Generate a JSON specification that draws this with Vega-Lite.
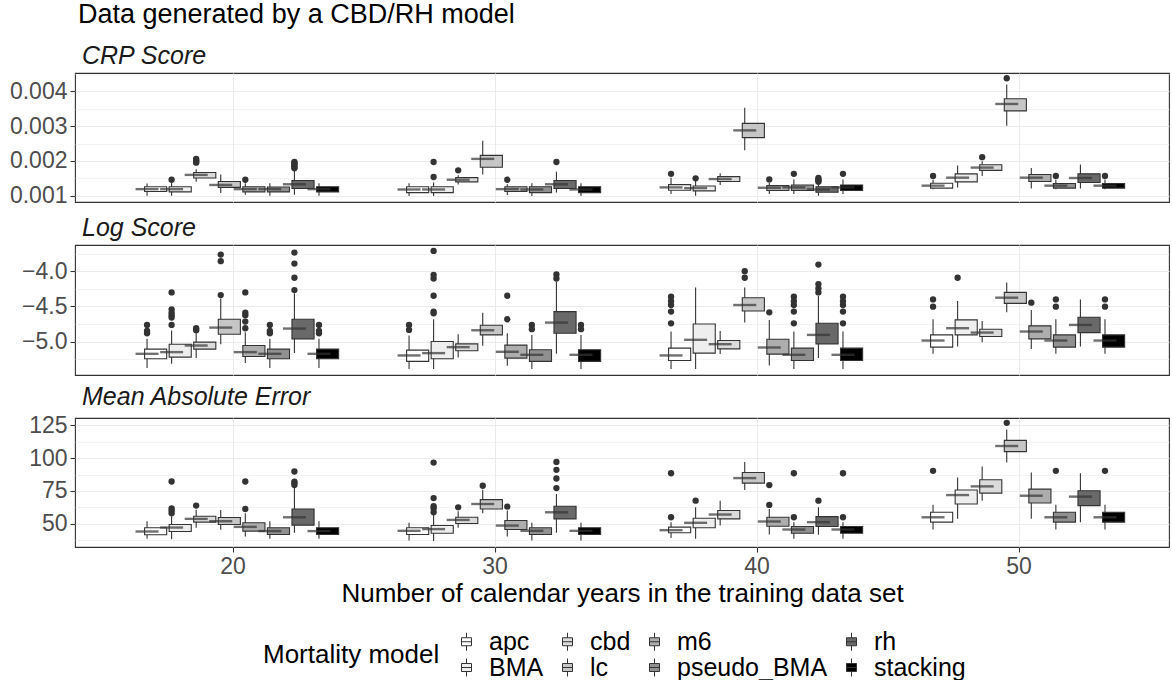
{
  "$schema": "https://vega.github.io/schema/vega-lite/v6.json",
  "padding": {"left": 5, "right": 4, "top": 1, "bottom": 2},
  "title": {"text": "Data generated by a CBD/RH model", "anchor": "start", "frame": "group", "dx": 3, "fontSize": 27, "fontWeight": "normal", "color": "#000000", "offset": 14},
  "spacing": 43,
  "bounds": "flush",
  "resolve": {"scale": {"y": "independent", "x": "independent", "xOffset": "independent", "fill": "shared"}, "axis": {"y": "independent", "x": "independent"}, "legend": {"fill": "shared"}},
  "datasets": {
    "boxes": [
      {"metric":"CRP","years":20,"model":"apc","lo":0.00100,"q1":0.00112,"med":0.00119,"q3":0.00126,"hi":0.00135},
      {"metric":"CRP","years":20,"model":"BMA","lo":0.00100,"q1":0.00111,"med":0.00119,"q3":0.00126,"hi":0.00138},
      {"metric":"CRP","years":20,"model":"cbd","lo":0.00140,"q1":0.00151,"med":0.00160,"q3":0.00167,"hi":0.00176},
      {"metric":"CRP","years":20,"model":"lc","lo":0.00108,"q1":0.00124,"med":0.00131,"q3":0.00141,"hi":0.00161},
      {"metric":"CRP","years":20,"model":"m6","lo":0.00103,"q1":0.00111,"med":0.00119,"q3":0.00126,"hi":0.00136},
      {"metric":"CRP","years":20,"model":"pseudo_BMA","lo":0.00100,"q1":0.00111,"med":0.00119,"q3":0.00125,"hi":0.00136},
      {"metric":"CRP","years":20,"model":"rh","lo":0.00103,"q1":0.00121,"med":0.00133,"q3":0.00144,"hi":0.00176},
      {"metric":"CRP","years":20,"model":"stacking","lo":0.00100,"q1":0.00111,"med":0.00119,"q3":0.00126,"hi":0.00136},
      {"metric":"CRP","years":30,"model":"apc","lo":0.00099,"q1":0.00109,"med":0.00118,"q3":0.00126,"hi":0.00136},
      {"metric":"CRP","years":30,"model":"BMA","lo":0.00099,"q1":0.00109,"med":0.00118,"q3":0.00126,"hi":0.00138},
      {"metric":"CRP","years":30,"model":"cbd","lo":0.00132,"q1":0.00140,"med":0.00146,"q3":0.00152,"hi":0.00159},
      {"metric":"CRP","years":30,"model":"lc","lo":0.00161,"q1":0.00182,"med":0.00206,"q3":0.00216,"hi":0.00258},
      {"metric":"CRP","years":30,"model":"m6","lo":0.00102,"q1":0.00112,"med":0.00119,"q3":0.00126,"hi":0.00133},
      {"metric":"CRP","years":30,"model":"pseudo_BMA","lo":0.00099,"q1":0.00109,"med":0.00118,"q3":0.00126,"hi":0.00136},
      {"metric":"CRP","years":30,"model":"rh","lo":0.00109,"q1":0.00121,"med":0.00133,"q3":0.00144,"hi":0.00169},
      {"metric":"CRP","years":30,"model":"stacking","lo":0.00099,"q1":0.00109,"med":0.00118,"q3":0.00126,"hi":0.00136},
      {"metric":"CRP","years":40,"model":"apc","lo":0.00105,"q1":0.00116,"med":0.00124,"q3":0.00132,"hi":0.00152},
      {"metric":"CRP","years":40,"model":"BMA","lo":0.00100,"q1":0.00114,"med":0.00122,"q3":0.00128,"hi":0.00143},
      {"metric":"CRP","years":40,"model":"cbd","lo":0.00131,"q1":0.00141,"med":0.00148,"q3":0.00155,"hi":0.00165},
      {"metric":"CRP","years":40,"model":"lc","lo":0.00231,"q1":0.00267,"med":0.00288,"q3":0.00308,"hi":0.00353},
      {"metric":"CRP","years":40,"model":"m6","lo":0.00105,"q1":0.00115,"med":0.00123,"q3":0.00129,"hi":0.00138},
      {"metric":"CRP","years":40,"model":"pseudo_BMA","lo":0.00105,"q1":0.00115,"med":0.00124,"q3":0.00131,"hi":0.00147},
      {"metric":"CRP","years":40,"model":"rh","lo":0.00100,"q1":0.00110,"med":0.00118,"q3":0.00126,"hi":0.00136},
      {"metric":"CRP","years":40,"model":"stacking","lo":0.00105,"q1":0.00115,"med":0.00124,"q3":0.00131,"hi":0.00147},
      {"metric":"CRP","years":50,"model":"apc","lo":0.00119,"q1":0.00122,"med":0.00129,"q3":0.00136,"hi":0.00147},
      {"metric":"CRP","years":50,"model":"BMA","lo":0.00124,"q1":0.00140,"med":0.00152,"q3":0.00163,"hi":0.00187},
      {"metric":"CRP","years":50,"model":"cbd","lo":0.00157,"q1":0.00173,"med":0.00181,"q3":0.00189,"hi":0.00199},
      {"metric":"CRP","years":50,"model":"lc","lo":0.00301,"q1":0.00344,"med":0.00364,"q3":0.00379,"hi":0.00420},
      {"metric":"CRP","years":50,"model":"m6","lo":0.00121,"q1":0.00141,"med":0.00152,"q3":0.00161,"hi":0.00180},
      {"metric":"CRP","years":50,"model":"pseudo_BMA","lo":0.00119,"q1":0.00122,"med":0.00129,"q3":0.00135,"hi":0.00147},
      {"metric":"CRP","years":50,"model":"rh","lo":0.00121,"q1":0.00138,"med":0.00151,"q3":0.00163,"hi":0.00190},
      {"metric":"CRP","years":50,"model":"stacking","lo":0.00119,"q1":0.00122,"med":0.00129,"q3":0.00135,"hi":0.00147},

      {"metric":"Log","years":20,"model":"apc","lo":-5.377,"q1":-5.245,"med":-5.175,"q3":-5.108,"hi":-4.962},
      {"metric":"Log","years":20,"model":"BMA","lo":-5.316,"q1":-5.222,"med":-5.151,"q3":-5.038,"hi":-4.844},
      {"metric":"Log","years":20,"model":"cbd","lo":-5.236,"q1":-5.108,"med":-5.057,"q3":-5.009,"hi":-4.882},
      {"metric":"Log","years":20,"model":"lc","lo":-5.038,"q1":-4.896,"med":-4.802,"q3":-4.684,"hi":-4.387},
      {"metric":"Log","years":20,"model":"m6","lo":-5.307,"q1":-5.212,"med":-5.151,"q3":-5.057,"hi":-4.868},
      {"metric":"Log","years":20,"model":"pseudo_BMA","lo":-5.377,"q1":-5.245,"med":-5.175,"q3":-5.108,"hi":-4.962},
      {"metric":"Log","years":20,"model":"rh","lo":-5.165,"q1":-4.962,"med":-4.816,"q3":-4.684,"hi":-4.316},
      {"metric":"Log","years":20,"model":"stacking","lo":-5.377,"q1":-5.245,"med":-5.175,"q3":-5.108,"hi":-4.962},
      {"metric":"Log","years":30,"model":"apc","lo":-5.392,"q1":-5.283,"med":-5.198,"q3":-5.123,"hi":-4.915},
      {"metric":"Log","years":30,"model":"BMA","lo":-5.392,"q1":-5.245,"med":-5.165,"q3":-5.000,"hi":-4.684},
      {"metric":"Log","years":30,"model":"cbd","lo":-5.226,"q1":-5.132,"med":-5.080,"q3":-5.033,"hi":-4.896},
      {"metric":"Log","years":30,"model":"lc","lo":-5.061,"q1":-4.906,"med":-4.840,"q3":-4.769,"hi":-4.590},
      {"metric":"Log","years":30,"model":"m6","lo":-5.344,"q1":-5.236,"med":-5.146,"q3":-5.052,"hi":-4.882},
      {"metric":"Log","years":30,"model":"pseudo_BMA","lo":-5.392,"q1":-5.283,"med":-5.189,"q3":-5.118,"hi":-4.906},
      {"metric":"Log","years":30,"model":"rh","lo":-5.175,"q1":-4.882,"med":-4.731,"q3":-4.575,"hi":-4.151},
      {"metric":"Log","years":30,"model":"stacking","lo":-5.392,"q1":-5.283,"med":-5.189,"q3":-5.118,"hi":-4.906},
      {"metric":"Log","years":40,"model":"apc","lo":-5.392,"q1":-5.269,"med":-5.198,"q3":-5.094,"hi":-4.858},
      {"metric":"Log","years":40,"model":"BMA","lo":-5.392,"q1":-5.165,"med":-4.976,"q3":-4.750,"hi":-4.231},
      {"metric":"Log","years":40,"model":"cbd","lo":-5.179,"q1":-5.104,"med":-5.038,"q3":-4.986,"hi":-4.849},
      {"metric":"Log","years":40,"model":"lc","lo":-4.731,"q1":-4.566,"med":-4.481,"q3":-4.377,"hi":-4.231},
      {"metric":"Log","years":40,"model":"m6","lo":-5.340,"q1":-5.179,"med":-5.085,"q3":-4.967,"hi":-4.693},
      {"metric":"Log","years":40,"model":"pseudo_BMA","lo":-5.392,"q1":-5.269,"med":-5.189,"q3":-5.094,"hi":-4.858},
      {"metric":"Log","years":40,"model":"rh","lo":-5.236,"q1":-5.033,"med":-4.906,"q3":-4.741,"hi":-4.354},
      {"metric":"Log","years":40,"model":"stacking","lo":-5.392,"q1":-5.269,"med":-5.189,"q3":-5.094,"hi":-4.858},
      {"metric":"Log","years":50,"model":"apc","lo":-5.175,"q1":-5.080,"med":-4.986,"q3":-4.906,"hi":-4.684},
      {"metric":"Log","years":50,"model":"BMA","lo":-5.071,"q1":-4.906,"med":-4.811,"q3":-4.693,"hi":-4.425},
      {"metric":"Log","years":50,"model":"cbd","lo":-5.009,"q1":-4.929,"med":-4.873,"q3":-4.825,"hi":-4.708},
      {"metric":"Log","years":50,"model":"lc","lo":-4.585,"q1":-4.458,"med":-4.377,"q3":-4.302,"hi":-4.160},
      {"metric":"Log","years":50,"model":"m6","lo":-5.108,"q1":-4.962,"med":-4.858,"q3":-4.778,"hi":-4.552},
      {"metric":"Log","years":50,"model":"pseudo_BMA","lo":-5.175,"q1":-5.080,"med":-4.986,"q3":-4.906,"hi":-4.684},
      {"metric":"Log","years":50,"model":"rh","lo":-5.071,"q1":-4.873,"med":-4.764,"q3":-4.656,"hi":-4.401},
      {"metric":"Log","years":50,"model":"stacking","lo":-5.175,"q1":-5.080,"med":-4.986,"q3":-4.906,"hi":-4.684},

      {"metric":"MAE","years":20,"model":"apc","lo":38.7,"q1":41.7,"med":44.2,"q3":47.0,"hi":52.0},
      {"metric":"MAE","years":20,"model":"BMA","lo":38.2,"q1":44.2,"med":47.2,"q3":49.5,"hi":55.8},
      {"metric":"MAE","years":20,"model":"cbd","lo":47.0,"q1":51.3,"med":53.8,"q3":55.8,"hi":60.8},
      {"metric":"MAE","years":20,"model":"lc","lo":45.5,"q1":49.5,"med":52.0,"q3":54.8,"hi":60.6},
      {"metric":"MAE","years":20,"model":"m6","lo":40.4,"q1":44.5,"med":47.7,"q3":50.8,"hi":58.1},
      {"metric":"MAE","years":20,"model":"pseudo_BMA","lo":38.7,"q1":41.9,"med":44.5,"q3":47.0,"hi":52.0},
      {"metric":"MAE","years":20,"model":"rh","lo":43.2,"q1":49.0,"med":55.0,"q3":61.3,"hi":77.7},
      {"metric":"MAE","years":20,"model":"stacking","lo":38.7,"q1":41.9,"med":44.5,"q3":47.0,"hi":52.0},
      {"metric":"MAE","years":30,"model":"apc","lo":37.4,"q1":41.9,"med":44.7,"q3":47.0,"hi":50.8},
      {"metric":"MAE","years":30,"model":"BMA","lo":36.9,"q1":42.9,"med":46.0,"q3":48.7,"hi":56.8},
      {"metric":"MAE","years":30,"model":"cbd","lo":47.0,"q1":50.3,"med":53.0,"q3":55.0,"hi":59.6},
      {"metric":"MAE","years":30,"model":"lc","lo":58.1,"q1":61.3,"med":65.1,"q3":68.4,"hi":75.9},
      {"metric":"MAE","years":30,"model":"m6","lo":40.4,"q1":45.7,"med":48.7,"q3":52.5,"hi":60.1},
      {"metric":"MAE","years":30,"model":"pseudo_BMA","lo":37.4,"q1":41.9,"med":44.7,"q3":47.0,"hi":50.8},
      {"metric":"MAE","years":30,"model":"rh","lo":43.2,"q1":53.8,"med":58.8,"q3":63.4,"hi":72.7},
      {"metric":"MAE","years":30,"model":"stacking","lo":37.4,"q1":41.9,"med":44.7,"q3":47.0,"hi":50.8},
      {"metric":"MAE","years":40,"model":"apc","lo":39.2,"q1":43.2,"med":45.2,"q3":47.5,"hi":51.3},
      {"metric":"MAE","years":40,"model":"BMA","lo":38.7,"q1":47.0,"med":50.8,"q3":54.3,"hi":62.6},
      {"metric":"MAE","years":40,"model":"cbd","lo":48.7,"q1":53.8,"med":57.1,"q3":60.1,"hi":67.6},
      {"metric":"MAE","years":40,"model":"lc","lo":75.7,"q1":81.0,"med":84.8,"q3":89.0,"hi":97.1},
      {"metric":"MAE","years":40,"model":"m6","lo":41.9,"q1":48.2,"med":51.8,"q3":55.0,"hi":61.3},
      {"metric":"MAE","years":40,"model":"pseudo_BMA","lo":38.7,"q1":42.9,"med":45.7,"q3":48.0,"hi":51.3},
      {"metric":"MAE","years":40,"model":"rh","lo":41.7,"q1":48.0,"med":51.3,"q3":55.5,"hi":62.6},
      {"metric":"MAE","years":40,"model":"stacking","lo":38.7,"q1":42.9,"med":45.7,"q3":48.0,"hi":51.3},
      {"metric":"MAE","years":50,"model":"apc","lo":45.7,"q1":51.3,"med":55.0,"q3":58.8,"hi":64.6},
      {"metric":"MAE","years":50,"model":"BMA","lo":53.8,"q1":65.1,"med":71.9,"q3":75.7,"hi":85.3},
      {"metric":"MAE","years":50,"model":"cbd","lo":67.6,"q1":73.4,"med":78.5,"q3":83.5,"hi":93.6},
      {"metric":"MAE","years":50,"model":"lc","lo":96.6,"q1":104.9,"med":109.2,"q3":113.5,"hi":121.8},
      {"metric":"MAE","years":50,"model":"m6","lo":53.8,"q1":65.9,"med":71.4,"q3":76.4,"hi":89.0},
      {"metric":"MAE","years":50,"model":"pseudo_BMA","lo":45.7,"q1":51.3,"med":55.0,"q3":58.8,"hi":64.6},
      {"metric":"MAE","years":50,"model":"rh","lo":51.3,"q1":63.9,"med":70.7,"q3":75.2,"hi":88.5},
      {"metric":"MAE","years":50,"model":"stacking","lo":45.7,"q1":51.3,"med":55.0,"q3":58.8,"hi":64.6}
    ],
    "outliers": [
      {"metric":"CRP","years":20,"model":"BMA","value":0.00146},
      {"metric":"CRP","years":20,"model":"cbd","value":0.00195},
      {"metric":"CRP","years":20,"model":"cbd","value":0.00198},
      {"metric":"CRP","years":20,"model":"cbd","value":0.00202},
      {"metric":"CRP","years":20,"model":"cbd","value":0.00206},
      {"metric":"CRP","years":20,"model":"m6","value":0.00146},
      {"metric":"CRP","years":20,"model":"rh","value":0.00179},
      {"metric":"CRP","years":20,"model":"rh","value":0.00183},
      {"metric":"CRP","years":20,"model":"rh","value":0.00187},
      {"metric":"CRP","years":20,"model":"rh","value":0.00191},
      {"metric":"CRP","years":20,"model":"rh","value":0.00195},
      {"metric":"CRP","years":20,"model":"rh","value":0.00197},
      {"metric":"CRP","years":30,"model":"BMA","value":0.00154},
      {"metric":"CRP","years":30,"model":"BMA","value":0.00197},
      {"metric":"CRP","years":30,"model":"cbd","value":0.00173},
      {"metric":"CRP","years":30,"model":"m6","value":0.00146},
      {"metric":"CRP","years":30,"model":"rh","value":0.00197},
      {"metric":"CRP","years":40,"model":"apc","value":0.00163},
      {"metric":"CRP","years":40,"model":"BMA","value":0.00150},
      {"metric":"CRP","years":40,"model":"m6","value":0.00147},
      {"metric":"CRP","years":40,"model":"pseudo_BMA","value":0.00163},
      {"metric":"CRP","years":40,"model":"rh","value":0.00140},
      {"metric":"CRP","years":40,"model":"rh","value":0.00144},
      {"metric":"CRP","years":40,"model":"rh","value":0.00147},
      {"metric":"CRP","years":40,"model":"rh","value":0.00151},
      {"metric":"CRP","years":40,"model":"stacking","value":0.00163},
      {"metric":"CRP","years":50,"model":"apc","value":0.00157},
      {"metric":"CRP","years":50,"model":"cbd","value":0.00211},
      {"metric":"CRP","years":50,"model":"lc","value":0.00438},
      {"metric":"CRP","years":50,"model":"pseudo_BMA","value":0.00157},
      {"metric":"CRP","years":50,"model":"stacking","value":0.00157},

      {"metric":"Log","years":20,"model":"apc","value":-4.764},
      {"metric":"Log","years":20,"model":"apc","value":-4.849},
      {"metric":"Log","years":20,"model":"apc","value":-4.882},
      {"metric":"Log","years":20,"model":"BMA","value":-4.302},
      {"metric":"Log","years":20,"model":"BMA","value":-4.542},
      {"metric":"Log","years":20,"model":"BMA","value":-4.590},
      {"metric":"Log","years":20,"model":"BMA","value":-4.627},
      {"metric":"Log","years":20,"model":"BMA","value":-4.660},
      {"metric":"Log","years":20,"model":"BMA","value":-4.764},
      {"metric":"Log","years":20,"model":"cbd","value":-4.811},
      {"metric":"Log","years":20,"model":"cbd","value":-4.840},
      {"metric":"Log","years":20,"model":"lc","value":-4.340},
      {"metric":"Log","years":20,"model":"lc","value":-3.858},
      {"metric":"Log","years":20,"model":"lc","value":-3.764},
      {"metric":"Log","years":20,"model":"m6","value":-4.302},
      {"metric":"Log","years":20,"model":"m6","value":-4.590},
      {"metric":"Log","years":20,"model":"m6","value":-4.627},
      {"metric":"Log","years":20,"model":"m6","value":-4.717},
      {"metric":"Log","years":20,"model":"m6","value":-4.811},
      {"metric":"Log","years":20,"model":"pseudo_BMA","value":-4.764},
      {"metric":"Log","years":20,"model":"pseudo_BMA","value":-4.849},
      {"metric":"Log","years":20,"model":"pseudo_BMA","value":-4.882},
      {"metric":"Log","years":20,"model":"rh","value":-4.269},
      {"metric":"Log","years":20,"model":"rh","value":-4.094},
      {"metric":"Log","years":20,"model":"rh","value":-3.892},
      {"metric":"Log","years":20,"model":"rh","value":-3.736},
      {"metric":"Log","years":20,"model":"stacking","value":-4.764},
      {"metric":"Log","years":20,"model":"stacking","value":-4.849},
      {"metric":"Log","years":20,"model":"stacking","value":-4.882},
      {"metric":"Log","years":30,"model":"apc","value":-4.764},
      {"metric":"Log","years":30,"model":"apc","value":-4.835},
      {"metric":"Log","years":30,"model":"BMA","value":-4.575},
      {"metric":"Log","years":30,"model":"BMA","value":-4.599},
      {"metric":"Log","years":30,"model":"BMA","value":-4.349},
      {"metric":"Log","years":30,"model":"BMA","value":-4.104},
      {"metric":"Log","years":30,"model":"BMA","value":-4.052},
      {"metric":"Log","years":30,"model":"BMA","value":-3.712},
      {"metric":"Log","years":30,"model":"m6","value":-4.684},
      {"metric":"Log","years":30,"model":"m6","value":-4.349},
      {"metric":"Log","years":30,"model":"pseudo_BMA","value":-4.764},
      {"metric":"Log","years":30,"model":"pseudo_BMA","value":-4.825},
      {"metric":"Log","years":30,"model":"rh","value":-4.104},
      {"metric":"Log","years":30,"model":"rh","value":-4.047},
      {"metric":"Log","years":30,"model":"stacking","value":-4.764},
      {"metric":"Log","years":30,"model":"stacking","value":-4.825},
      {"metric":"Log","years":40,"model":"apc","value":-4.741},
      {"metric":"Log","years":40,"model":"apc","value":-4.575},
      {"metric":"Log","years":40,"model":"apc","value":-4.481},
      {"metric":"Log","years":40,"model":"apc","value":-4.425},
      {"metric":"Log","years":40,"model":"apc","value":-4.363},
      {"metric":"Log","years":40,"model":"lc","value":-4.094},
      {"metric":"Log","years":40,"model":"lc","value":-4.000},
      {"metric":"Log","years":40,"model":"m6","value":-4.585},
      {"metric":"Log","years":40,"model":"pseudo_BMA","value":-4.741},
      {"metric":"Log","years":40,"model":"pseudo_BMA","value":-4.575},
      {"metric":"Log","years":40,"model":"pseudo_BMA","value":-4.481},
      {"metric":"Log","years":40,"model":"pseudo_BMA","value":-4.425},
      {"metric":"Log","years":40,"model":"pseudo_BMA","value":-4.363},
      {"metric":"Log","years":40,"model":"rh","value":-4.302},
      {"metric":"Log","years":40,"model":"rh","value":-4.245},
      {"metric":"Log","years":40,"model":"rh","value":-4.184},
      {"metric":"Log","years":40,"model":"rh","value":-3.906},
      {"metric":"Log","years":40,"model":"stacking","value":-4.741},
      {"metric":"Log","years":40,"model":"stacking","value":-4.575},
      {"metric":"Log","years":40,"model":"stacking","value":-4.481},
      {"metric":"Log","years":40,"model":"stacking","value":-4.425},
      {"metric":"Log","years":40,"model":"stacking","value":-4.363},
      {"metric":"Log","years":50,"model":"apc","value":-4.505},
      {"metric":"Log","years":50,"model":"apc","value":-4.401},
      {"metric":"Log","years":50,"model":"BMA","value":-4.094},
      {"metric":"Log","years":50,"model":"m6","value":-4.448},
      {"metric":"Log","years":50,"model":"pseudo_BMA","value":-4.505},
      {"metric":"Log","years":50,"model":"pseudo_BMA","value":-4.401},
      {"metric":"Log","years":50,"model":"stacking","value":-4.505},
      {"metric":"Log","years":50,"model":"stacking","value":-4.401},

      {"metric":"MAE","years":20,"model":"BMA","value":58.1},
      {"metric":"MAE","years":20,"model":"BMA","value":60.1},
      {"metric":"MAE","years":20,"model":"BMA","value":61.8},
      {"metric":"MAE","years":20,"model":"BMA","value":82.2},
      {"metric":"MAE","years":20,"model":"cbd","value":63.9},
      {"metric":"MAE","years":20,"model":"m6","value":61.3},
      {"metric":"MAE","years":20,"model":"m6","value":82.2},
      {"metric":"MAE","years":20,"model":"rh","value":79.5},
      {"metric":"MAE","years":20,"model":"rh","value":81.0},
      {"metric":"MAE","years":20,"model":"rh","value":82.0},
      {"metric":"MAE","years":20,"model":"rh","value":89.8},
      {"metric":"MAE","years":30,"model":"BMA","value":58.8},
      {"metric":"MAE","years":30,"model":"BMA","value":61.8},
      {"metric":"MAE","years":30,"model":"BMA","value":63.4},
      {"metric":"MAE","years":30,"model":"BMA","value":69.6},
      {"metric":"MAE","years":30,"model":"BMA","value":96.6},
      {"metric":"MAE","years":30,"model":"cbd","value":62.6},
      {"metric":"MAE","years":30,"model":"lc","value":79.0},
      {"metric":"MAE","years":30,"model":"m6","value":63.1},
      {"metric":"MAE","years":30,"model":"rh","value":77.2},
      {"metric":"MAE","years":30,"model":"rh","value":84.5},
      {"metric":"MAE","years":30,"model":"rh","value":91.1},
      {"metric":"MAE","years":30,"model":"rh","value":97.1},
      {"metric":"MAE","years":40,"model":"apc","value":55.0},
      {"metric":"MAE","years":40,"model":"apc","value":88.5},
      {"metric":"MAE","years":40,"model":"BMA","value":67.6},
      {"metric":"MAE","years":40,"model":"m6","value":64.4},
      {"metric":"MAE","years":40,"model":"m6","value":79.5},
      {"metric":"MAE","years":40,"model":"pseudo_BMA","value":55.0},
      {"metric":"MAE","years":40,"model":"pseudo_BMA","value":88.5},
      {"metric":"MAE","years":40,"model":"rh","value":67.6},
      {"metric":"MAE","years":40,"model":"stacking","value":55.0},
      {"metric":"MAE","years":40,"model":"stacking","value":88.5},
      {"metric":"MAE","years":50,"model":"apc","value":90.3},
      {"metric":"MAE","years":50,"model":"lc","value":126.8},
      {"metric":"MAE","years":50,"model":"pseudo_BMA","value":90.3},
      {"metric":"MAE","years":50,"model":"stacking","value":90.3}
    ]
  },
  "vconcat": [
    {
      "width": 1094, "height": 129,
      "title": {"text": "CRP Score", "anchor": "start", "frame": "group", "fontSize": 25, "fontStyle": "italic", "fontWeight": "normal", "color": "#1A1A1A", "dx": 7, "offset": 4},
      "resolve": {"axis": {"y": "independent"}},
      "layer": [
        {
          "data": {"name": "boxes"}, "transform": [{"filter": "datum.metric == 'CRP'"}],
          "mark": {"type": "rule", "color": "#333333", "strokeWidth": 1.1},
          "encoding": {
            "x": {"field": "years", "type": "ordinal", "title": null, "scale": {"paddingInner": 0.25, "paddingOuter": 0.2128, "align": 0.536}, "axis": {"grid": true, "labels": false, "ticks": false, "domain": false, "bandPosition": 0.5}},
            "xOffset": {"field": "model", "type": "nominal", "scale": {"domain": ["apc","BMA","cbd","lc","m6","pseudo_BMA","rh","stacking"]}},
            "y": {"field": "lo", "type": "quantitative", "title": null, "scale": {"domain": [0.00082, 0.00453], "nice": false, "zero": false},
                  "axis": {"orient": "left", "values": [0.0015, 0.0025, 0.0035, 0.0045], "labels": false, "ticks": false, "domain": false, "grid": true, "gridWidth": 0.6, "minExtent": 0, "maxExtent": 0}},
            "y2": {"field": "hi"}
          }
        },
        {
          "data": {"name": "boxes"}, "transform": [{"filter": "datum.metric == 'CRP'"}],
          "mark": {"type": "bar", "stroke": "#333333", "strokeWidth": 1.1, "width": {"band": 0.9}},
          "encoding": {
            "x": {"field": "years", "type": "ordinal", "title": null},
            "xOffset": {"field": "model", "type": "nominal"},
            "y": {"field": "q1", "type": "quantitative", "title": null,
                  "axis": {"orient": "left", "values": [0.001, 0.002, 0.003, 0.004], "format": ".3f", "grid": true, "gridWidth": 1.1, "labelOverlap": false, "labelFlush": false, "minExtent": 69, "maxExtent": 69}},
            "y2": {"field": "q3"},
            "fill": {"field": "model", "type": "nominal",
                     "scale": {"domain": ["apc","cbd","m6","rh","BMA","lc","pseudo_BMA","stacking"], "range": ["#FFFFFF","#DBDBDB","#ADADAD","#696969","#EEEEEE","#C6C6C6","#909090","#000000"]},
                     "legend": {"title": "Mortality model", "orient": "none", "legendX": 188, "legendY": 556, "direction": "horizontal", "columns": 4, "titleOrient": "left", "titleAnchor": "middle", "titleBaseline": "middle", "titleFontSize": 26, "titleFontWeight": "normal", "titleColor": "#000000", "titlePadding": 14, "labelFontSize": 25, "labelColor": "#000000", "labelOffset": 10, "columnPadding": 11, "rowPadding": -7, "symbolSize": 400, "symbolStrokeColor": "#333333", "symbolStrokeWidth": 1, "symbolType": "M-0.5,-0.4H0.5V0.4H-0.5Z M-0.5,0H0.5 M0,-0.4V-0.9 M0,0.4V0.9"}}
          }
        },
        {
          "data": {"name": "boxes"}, "transform": [{"filter": "datum.metric == 'CRP'"}],
          "mark": {"type": "tick", "color": "#333333", "thickness": 2.4, "size": 23, "orient": "horizontal"},
          "encoding": {
            "x": {"field": "years", "type": "ordinal", "title": null},
            "xOffset": {"field": "model", "type": "nominal"},
            "y": {"field": "med", "type": "quantitative", "title": null, "axis": null}
          }
        },
        {
          "data": {"name": "outliers"}, "transform": [{"filter": "datum.metric == 'CRP'"}],
          "mark": {"type": "point", "filled": true, "color": "#333333", "size": 40, "opacity": 1},
          "encoding": {
            "x": {"field": "years", "type": "ordinal", "title": null},
            "xOffset": {"field": "model", "type": "nominal"},
            "y": {"field": "value", "type": "quantitative", "title": null, "axis": null}
          }
        }
      ]
    },
    {
      "width": 1094, "height": 130,
      "title": {"text": "Log Score", "anchor": "start", "frame": "group", "fontSize": 25, "fontStyle": "italic", "fontWeight": "normal", "color": "#1A1A1A", "dx": 7, "offset": 4},
      "resolve": {"axis": {"y": "independent"}},
      "layer": [
        {
          "data": {"name": "boxes"}, "transform": [{"filter": "datum.metric == 'Log'"}],
          "mark": {"type": "rule", "color": "#333333", "strokeWidth": 1.1},
          "encoding": {
            "x": {"field": "years", "type": "ordinal", "title": null, "scale": {"paddingInner": 0.25, "paddingOuter": 0.2128, "align": 0.536}, "axis": {"grid": true, "labels": false, "ticks": false, "domain": false, "bandPosition": 0.5}},
            "xOffset": {"field": "model", "type": "nominal", "scale": {"domain": ["apc","BMA","cbd","lc","m6","pseudo_BMA","rh","stacking"]}},
            "y": {"field": "lo", "type": "quantitative", "title": null, "scale": {"domain": [-5.476, -3.628], "nice": false, "zero": false},
                  "axis": {"orient": "left", "values": [-5.25, -4.75, -4.25, -3.75], "labels": false, "ticks": false, "domain": false, "grid": true, "gridWidth": 0.6, "minExtent": 0, "maxExtent": 0}},
            "y2": {"field": "hi"}
          }
        },
        {
          "data": {"name": "boxes"}, "transform": [{"filter": "datum.metric == 'Log'"}],
          "mark": {"type": "bar", "stroke": "#333333", "strokeWidth": 1.1, "width": {"band": 0.9}},
          "encoding": {
            "x": {"field": "years", "type": "ordinal", "title": null},
            "xOffset": {"field": "model", "type": "nominal"},
            "y": {"field": "q1", "type": "quantitative", "title": null,
                  "axis": {"orient": "left", "values": [-5, -4.5, -4], "format": ".1f", "grid": true, "gridWidth": 1.1, "labelOverlap": false, "labelFlush": false, "minExtent": 69, "maxExtent": 69}},
            "y2": {"field": "q3"},
            "fill": {"field": "model", "type": "nominal",
                     "scale": {"domain": ["apc","cbd","m6","rh","BMA","lc","pseudo_BMA","stacking"], "range": ["#FFFFFF","#DBDBDB","#ADADAD","#696969","#EEEEEE","#C6C6C6","#909090","#000000"]},
                     "legend": {"title": "Mortality model", "orient": "none", "legendX": 188, "legendY": 556, "direction": "horizontal", "columns": 4, "titleOrient": "left", "titleAnchor": "middle", "titleBaseline": "middle", "titleFontSize": 26, "titleFontWeight": "normal", "titleColor": "#000000", "titlePadding": 14, "labelFontSize": 25, "labelColor": "#000000", "labelOffset": 10, "columnPadding": 11, "rowPadding": -7, "symbolSize": 400, "symbolStrokeColor": "#333333", "symbolStrokeWidth": 1, "symbolType": "M-0.5,-0.4H0.5V0.4H-0.5Z M-0.5,0H0.5 M0,-0.4V-0.9 M0,0.4V0.9"}}
          }
        },
        {
          "data": {"name": "boxes"}, "transform": [{"filter": "datum.metric == 'Log'"}],
          "mark": {"type": "tick", "color": "#333333", "thickness": 2.4, "size": 23, "orient": "horizontal"},
          "encoding": {
            "x": {"field": "years", "type": "ordinal", "title": null},
            "xOffset": {"field": "model", "type": "nominal"},
            "y": {"field": "med", "type": "quantitative", "title": null, "axis": null}
          }
        },
        {
          "data": {"name": "outliers"}, "transform": [{"filter": "datum.metric == 'Log'"}],
          "mark": {"type": "point", "filled": true, "color": "#333333", "size": 40, "opacity": 1},
          "encoding": {
            "x": {"field": "years", "type": "ordinal", "title": null},
            "xOffset": {"field": "model", "type": "nominal"},
            "y": {"field": "value", "type": "quantitative", "title": null, "axis": null}
          }
        }
      ]
    },
    {
      "width": 1094, "height": 129,
      "title": {"text": "Mean Absolute Error", "anchor": "start", "frame": "group", "fontSize": 25, "fontStyle": "italic", "fontWeight": "normal", "color": "#1A1A1A", "dx": 7, "offset": 4},
      "resolve": {"axis": {"y": "independent"}},
      "layer": [
        {
          "data": {"name": "boxes"}, "transform": [{"filter": "datum.metric == 'MAE'"}],
          "mark": {"type": "rule", "color": "#333333", "strokeWidth": 1.1},
          "encoding": {
            "x": {"field": "years", "type": "ordinal", "title": "Number of calendar years in the training data set", "scale": {"paddingInner": 0.25, "paddingOuter": 0.2128, "align": 0.536},
                  "axis": {"grid": true, "domain": false, "bandPosition": 0.5, "labelAngle": 0, "labelPadding": 3, "titleFontSize": 26, "titleFontWeight": "normal", "titleColor": "#000000", "titlePadding": 2}},
            "xOffset": {"field": "model", "type": "nominal", "scale": {"domain": ["apc","BMA","cbd","lc","m6","pseudo_BMA","rh","stacking"]}},
            "y": {"field": "lo", "type": "quantitative", "title": null, "scale": {"domain": [32.4, 130.5], "nice": false, "zero": false},
                  "axis": {"orient": "left", "values": [37.5, 62.5, 87.5, 112.5], "labels": false, "ticks": false, "domain": false, "grid": true, "gridWidth": 0.6, "minExtent": 0, "maxExtent": 0}},
            "y2": {"field": "hi"}
          }
        },
        {
          "data": {"name": "boxes"}, "transform": [{"filter": "datum.metric == 'MAE'"}],
          "mark": {"type": "bar", "stroke": "#333333", "strokeWidth": 1.1, "width": {"band": 0.9}},
          "encoding": {
            "x": {"field": "years", "type": "ordinal", "title": "Number of calendar years in the training data set"},
            "xOffset": {"field": "model", "type": "nominal"},
            "y": {"field": "q1", "type": "quantitative", "title": null,
                  "axis": {"orient": "left", "values": [50, 75, 100, 125], "format": "d", "grid": true, "gridWidth": 1.1, "labelOverlap": false, "labelFlush": false, "minExtent": 69, "maxExtent": 69}},
            "y2": {"field": "q3"},
            "fill": {"field": "model", "type": "nominal",
                     "scale": {"domain": ["apc","cbd","m6","rh","BMA","lc","pseudo_BMA","stacking"], "range": ["#FFFFFF","#DBDBDB","#ADADAD","#696969","#EEEEEE","#C6C6C6","#909090","#000000"]},
                     "legend": {"title": "Mortality model", "orient": "none", "legendX": 188, "legendY": 556, "direction": "horizontal", "columns": 4, "titleOrient": "left", "titleAnchor": "middle", "titleBaseline": "middle", "titleFontSize": 26, "titleFontWeight": "normal", "titleColor": "#000000", "titlePadding": 14, "labelFontSize": 25, "labelColor": "#000000", "labelOffset": 10, "columnPadding": 11, "rowPadding": -7, "symbolSize": 400, "symbolStrokeColor": "#333333", "symbolStrokeWidth": 1, "symbolType": "M-0.5,-0.4H0.5V0.4H-0.5Z M-0.5,0H0.5 M0,-0.4V-0.9 M0,0.4V0.9"}}
          }
        },
        {
          "data": {"name": "boxes"}, "transform": [{"filter": "datum.metric == 'MAE'"}],
          "mark": {"type": "tick", "color": "#333333", "thickness": 2.4, "size": 23, "orient": "horizontal"},
          "encoding": {
            "x": {"field": "years", "type": "ordinal", "title": "Number of calendar years in the training data set"},
            "xOffset": {"field": "model", "type": "nominal"},
            "y": {"field": "med", "type": "quantitative", "title": null, "axis": null}
          }
        },
        {
          "data": {"name": "outliers"}, "transform": [{"filter": "datum.metric == 'MAE'"}],
          "mark": {"type": "point", "filled": true, "color": "#333333", "size": 40, "opacity": 1},
          "encoding": {
            "x": {"field": "years", "type": "ordinal", "title": "Number of calendar years in the training data set"},
            "xOffset": {"field": "model", "type": "nominal"},
            "y": {"field": "value", "type": "quantitative", "title": null, "axis": null}
          }
        }
      ]
    }
  ],
  "config": {
    "font": "Liberation Sans",
    "view": {"stroke": "#333333", "strokeWidth": 1.1},
    "axis": {"domain": false, "gridColor": "#EBEBEB", "tickColor": "#333333", "tickSize": 5, "tickWidth": 1.1, "labelColor": "#4D4D4D", "labelFontSize": 23, "labelPadding": 3, "titleFontWeight": "normal"},
    "title": {"fontWeight": "normal"}
  }
}
